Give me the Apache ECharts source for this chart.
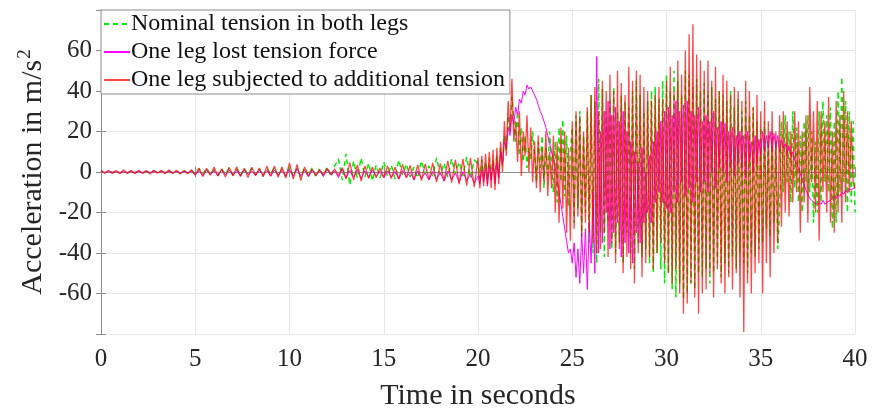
<!DOCTYPE html>
<html><head><meta charset="utf-8">
<script src="https://cdn.jsdelivr.net/npm/echarts@6/dist/echarts.min.js"></script>
<style>html,body{margin:0;padding:0;background:#fff}#c{width:874px;height:416px}</style>
</head><body><div id="c"></div>
<script>
// Sampling: early part 0..19.8 s every 0.2 s, late part 20..40 s every 0.1 s
const earlyStart = 0, earlyStep = 0.2;
const lateStart = 20, lateStep = 0.1;

const seriesNames = ['Nominal tension in both legs','One leg lost tension force','One leg subjected to additional tension'];
const xTicks = [0,5,10,15,20,25,30,35,40];
const yTicks = [-60,-40,-20,0,20,40,60];

const greenEarly = [
0.3,-0.3,0.4,-0.2,0.3,-0.4,0.2,-0.3,0.4,-0.3,
0.3,-0.4,0.2,-0.3,0.5,-0.3,0.4,-0.5,0.6,-0.4,
0.5,-0.6,0.8,-0.5,0.7,
-1.2,1.5,-1.0,1.8,-1.4,1.2,-1.7,1.6,-1.1,2.0,
-1.5,1.3,-1.8,1.6,-1.2,1.9,-1.6,1.4,-2.0,1.7,
-1.3,2.2,-1.8,1.5,-2.1,
2.4,-2.0,1.8,-2.5,2.2,-1.6,2.0,-2.3,1.7,-2.1,
2.5,-2.4,3.0,6.5,-4.0,9.0,-6.5,5.5,-3.0,7.0,
-2.5,4.5,-4.5,3.5,-3.0,
5.0,-2.0,3.5,-3.5,6.0,-1.5,4.0,-2.5,2.5,-3.0,
5.5,-1.0,3.0,-2.0,7.0,-1.5,4.5,-2.5,6.5,-1.0,
5.0,-2.0,7.5,-3.0,6.0];
const greenLate = [
4,-3,6,-2,5,-4,7,-2,6,-3,
8,-1,12,3,18,10,28,20,37,25,
15,30,8,22,5,18,2,12,6,20,
8,-5,15,2,18,-8,12,-2,20,5,
-10,15,-15,22,-5,26,-12,18,-17,10,
22,-25,28,-18,30,-30,18,-20,30,-35,
38,-40,35,-45,46,-30,41,-42,30,-25,
35,-38,42,-40,30,-35,38,-45,35,-30,
32,-40,40,-48,45,-35,38,-42,30,-38,
35,-45,40,-50,42,-40,36,-48,45,-55,
48,-50,40,-58,50,-62,45,-55,38,-63,
50,-60,48,-55,42,-58,46,-50,40,-52,
44,-48,38,-55,42,-50,36,-45,40,-52,
38,-45,35,-50,40,-42,32,-48,36,-40,
30,-45,35,-50,28,-40,32,-42,25,-38,
22,-35,25,-28,18,-32,20,-25,15,-38,
-20,25,-10,28,-5,20,-15,30,-8,22,
-15,18,-20,25,-5,28,-10,20,-25,15,
-20,30,-15,35,-5,28,-10,32,-28,25,
-25,40,-10,47,-5,35,-20,30,-15,25,-20];

const magentaEarly = [
0.2,-0.2,0.1,-0.1,0.2,-0.2,0.1,-0.2,0.2,-0.1,
0.2,-0.2,0.3,-0.2,0.2,-0.3,0.2,-0.2,0.3,-0.3,
0.3,-0.4,0.3,-0.3,0.4,
-1.5,0.8,-1.8,1.0,-1.2,0.6,-1.9,1.1,-1.4,0.9,
-1.7,0.7,-2.0,1.2,-1.3,0.5,-1.8,1.0,-1.5,0.8,
-2.1,1.0,-1.6,0.9,-1.9,
1.2,-2.0,1.5,-1.8,0.8,-2.4,1.0,-1.6,0.6,-2.2,
1.2,-1.5,0.5,-2.8,1.5,-3.0,0.8,-2.5,1.2,-3.2,
0.5,-2.6,1.0,-2.2,0.4,
-3.0,0.5,-2.5,0.2,-3.5,0.8,-2.8,0.0,-3.8,0.5,
-3.2,-0.5,-4.0,0.3,-3.6,-0.2,-4.5,0.5,-3.8,-0.5,
-5.0,0.2,-4.2,-1.0,-5.5];
const magentaLate = [
-2,-6,1,-5,2,-7,3,-4,4,-6,
5,-3,10,4,15,12,22,18,28,24,
32,28,36,34,40,38,43,41,42,40,
38,36,33,30,28,25,22,18,14,10,
6,2,-4,-10,-16,-22,-28,-34,-40,-38,
-45,-35,-52,-38,-55,-30,-50,-28,-58,-25,
-45,-10,-50,57,-40,20,-35,30,-20,35,
-38,28,-30,32,-25,25,-42,30,-35,20,
-40,15,-45,10,-30,5,-35,12,-25,0,
-20,8,-25,15,-15,20,-10,25,-15,30,
-18,32,-20,28,-10,35,-15,30,-5,33,
-12,35,-8,30,-15,28,-5,32,-10,25,
-5,28,-10,25,0,30,-8,22,2,25,
0,24,-5,20,2,22,-2,18,4,20,
2,18,-3,20,5,15,0,18,4,16,
8,20,10,18,12,20,10,19,12,18,
10,16,12,14,9,13,8,10,6,4,
2,-1,-4,-6,-9,-11,-13,-14,-15,-15,
-16,-15,-16,-14,-16,-15,-15,-14,-13,-12,
-13,-11,-12,-10,-11,-9,-10,-8,-9,-8,-8];

const redEarly = [
0.8,-0.6,0.9,-0.8,0.7,-0.9,1.0,-0.7,0.8,-0.9,
0.9,-0.8,0.7,-1.0,0.9,-0.6,0.8,-0.9,1.0,-0.8,
0.9,-1.0,0.8,-0.9,1.2,
-1.5,2.0,-2.2,1.8,-1.6,2.4,-2.0,1.5,-2.5,2.2,
-1.8,2.6,-2.2,1.9,-2.7,2.3,-1.6,2.0,-2.4,2.8,
-2.0,3.0,-2.6,2.5,-3.0,
4.5,-3.5,3.8,-4.2,2.5,-2.0,1.5,-1.8,1.2,-1.5,
1.8,-1.2,1.5,-2.0,2.2,-3.5,4.8,-4.0,3.5,-4.5,
3.0,-3.2,2.5,-2.8,2.0,
-2.5,3.0,-3.2,2.5,-3.5,3.8,-2.8,3.2,-4.0,3.5,
-4.2,4.0,-3.8,4.5,-5.0,4.2,-4.5,5.5,-5.2,6.0,
-6.0,6.5,-6.8,7.0,-7.5];
const redLate = [
7,-8,8,-7,9,-6,10,-8,11,-9,
12,-6,15,0,25,8,35,20,46,15,
25,5,30,-2,20,8,28,0,22,-5,
15,-8,18,-10,12,-5,20,-12,10,-8,
18,-20,15,-25,22,-18,20,-30,12,-34,
25,-28,30,-22,28,-32,20,-25,32,-30,
38,-35,42,-40,30,-38,45,-30,40,-42,
48,-35,40,-45,50,-38,44,-50,38,-42,
52,-48,45,-55,50,-40,48,-52,42,-45,
40,-42,35,-48,38,-40,42,-35,36,-45,
45,-50,52,-55,40,-48,55,-60,48,-70,
60,-65,68,-55,73,-62,58,-70,55,-60,
50,-58,55,-50,45,-62,52,-48,40,-55,
48,-60,45,-52,38,-58,42,-50,40,-62,
35,-79,45,-55,40,-60,32,-50,38,-45,
30,-60,35,-45,25,-52,30,-40,20,-35,
28,-27,30,-20,25,-22,20,-15,30,-10,
25,-30,20,-15,28,-25,42,-5,30,-20,
35,-34,30,-10,25,-20,37,-25,20,-30,
35,-20,28,-25,40,-15,30,-10,25,-5,-8];

function build(early, late) {
  const out = [];
  early.forEach((v, i) => out.push([+(earlyStart + i * earlyStep).toFixed(2), v]));
  late.forEach((v, i) => out.push([+(lateStart + i * lateStep).toFixed(2), v]));
  return out;
}

const font = '"Liberation Serif","Times New Roman",serif';
const boxColor = '#8c8c8c';
const txt = '#262626';
const chart = echarts.init(document.getElementById('c'), null, {renderer: 'canvas'});
chart.setOption({
  animation: false,
  backgroundColor: '#fff',
  grid: {left: 101, right: 19, top: 10, bottom: 74, containLabel: false},
  legend: {
    orient: 'vertical', left: 101, top: 10,
    backgroundColor: '#fff', borderColor: boxColor, borderWidth: 1,
    padding: [2, 5, 2, 2], itemGap: 4, itemWidth: 26, itemHeight: 14,
    itemStyle: {color: 'transparent', borderColor: 'transparent', borderWidth: 0, opacity: 0},
    textStyle: {fontFamily: font, fontSize: 24, color: '#111', padding: [0,0,0,-4]},
    data: seriesNames
  },
  xAxis: [{
    type: 'value', min: 0, max: 40, interval: 5,
    name: 'Time in seconds', nameLocation: 'middle', nameGap: 47,
    nameTextStyle: {fontFamily: font, fontSize: 30, color: txt},
    axisLine: {show: true, lineStyle: {color: boxColor}},
    axisTick: {show: true, inside: true, length: 5, lineStyle: {color: boxColor}},
    axisLabel: {fontFamily: font, fontSize: 25, color: txt, margin: 13},
    splitLine: {show: true, lineStyle: {color: '#e8e8e8'}}
  }, {
    type: 'value', position: 'top', min: 0, max: 40, interval: 5,
    axisLine: {show: true, lineStyle: {color: boxColor}},
    axisTick: {show: true, inside: true, length: 5, lineStyle: {color: boxColor}},
    axisLabel: {show: false}, splitLine: {show: false}
  }],
  yAxis: [{
    type: 'value', min: -80, max: 80, interval: 20,
    name: '{a|Acceleration in m/s}{b|2}', nameLocation: 'middle', nameGap: 44,
    nameTextStyle: {fontFamily: font, fontSize: 30, color: txt,
      rich: {a: {fontFamily: font, fontSize: 30, color: txt, lineHeight: 34},
             b: {fontFamily: font, fontSize: 19, color: txt, verticalAlign: 'top', lineHeight: 34, padding: [0,0,12,1]}}},
    axisLine: {show: true, lineStyle: {color: boxColor}},
    axisTick: {show: true, inside: true, length: 5, lineStyle: {color: boxColor}},
    axisLabel: {fontFamily: font, fontSize: 25, color: txt, margin: 9,
      formatter: v => (yTicks.indexOf(v) >= 0 ? String(v) : '')},
    splitLine: {show: true, lineStyle: {color: '#e8e8e8'}}
  }, {
    type: 'value', position: 'right', min: -80, max: 80, interval: 20,
    axisLine: {show: true, lineStyle: {color: boxColor}},
    axisTick: {show: true, inside: true, length: 5, lineStyle: {color: boxColor}},
    axisLabel: {show: false}, splitLine: {show: false}
  }],
  series: [{
    name: seriesNames[0], type: 'line', showSymbol: false, symbol: 'none',
    color: '#00ee00',
    lineStyle: {color: '#00ee00', width: 1.5, type: [5, 4]},
    data: build(greenEarly, greenLate), z: 1
  }, {
    name: seriesNames[1], type: 'line', showSymbol: false, symbol: 'none',
    color: '#ff00ff',
    lineStyle: {color: '#ff00ff', width: 1},
    data: build(magentaEarly, magentaLate), z: 2
  }, {
    name: seriesNames[2], type: 'line', showSymbol: false, symbol: 'none',
    color: 'rgba(255,0,0,0.6)',
    lineStyle: {color: 'rgba(255,0,0,0.72)', width: 1.3},
    data: build(redEarly, redLate), z: 3
  }]
});
</script></body></html>
